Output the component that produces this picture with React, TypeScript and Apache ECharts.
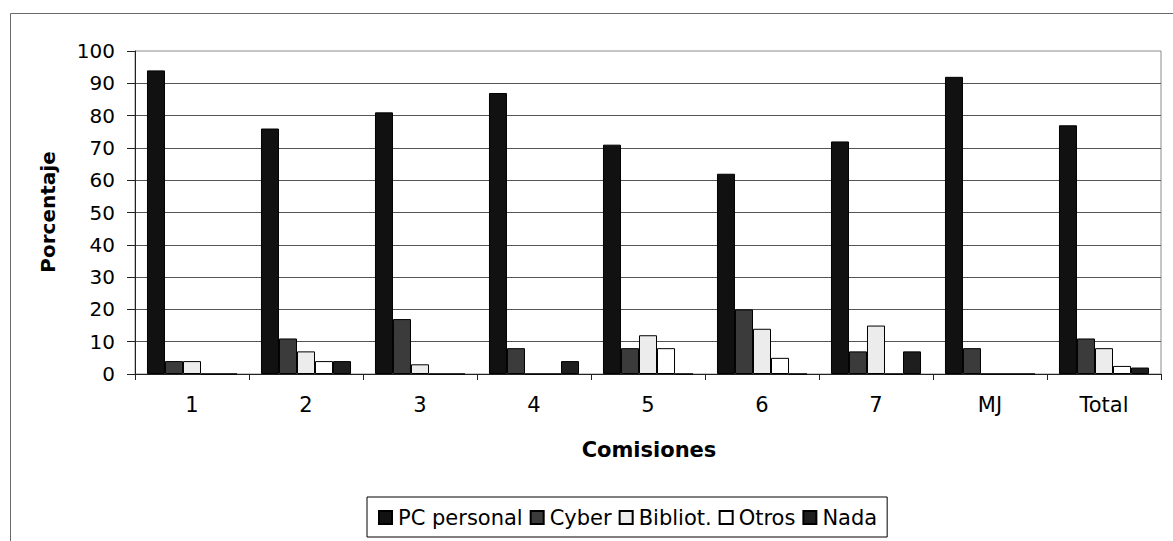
import React, { useEffect, useRef } from "react";
import * as echarts from "echarts";

const categories = ["1", "2", "3", "4", "5", "6", "7", "MJ", "Total"];
const seriesNames = ["PC personal", "Cyber", "Bibliot.", "Otros", "Nada"];
const pcPersonal = [94, 76, 81, 87, 71, 62, 72, 92, 77];
const cyber = [4, 11, 17, 8, 8, 20, 7, 8, 11];
const bibliot = [4, 7, 3, 0, 12, 14, 15, 0, 8];
const otros = [0, 4, 0, 0, 8, 5, 0, 0, 2.5];
const nada = [0, 4, 0, 4, 0, 0, 7, 0, 2];
const yTicks = { min: 0, max: 100, interval: 10 };

const seriesColors = ["#111111", "#3b3b3b", "#ececec", "#ffffff", "#1e1e1e"];
const FONT = "DejaVu Sans";

export default function App() {
  const ref = useRef<HTMLDivElement>(null);
  useEffect(() => {
    document.body.style.margin = "0";
    if (!ref.current) return;
    const chart = echarts.init(ref.current, null, { renderer: "svg" });
    const values = [pcPersonal, cyber, bibliot, otros, nada];
    chart.setOption({
      animation: false,
      backgroundColor: "#ffffff",
      grid: {
        left: 135,
        top: 51,
        right: 12,
        bottom: 167,
        show: true,
        borderColor: "#8a8a8a",
        borderWidth: 1,
      },
      graphic: [
        {
          type: "rect",
          shape: { x: 10.5, y: 13.5, width: 1300, height: 700 },
          style: { fill: "none", stroke: "#6a6a6a", lineWidth: 1 },
          silent: true,
          z: -10,
        },
        {
          type: "text",
          x: 48,
          y: 212,
          rotation: Math.PI / 2,
          style: {
            text: "Porcentaje",
            align: "center",
            verticalAlign: "middle",
            font: `bold 20px "${FONT}"`,
            fill: "#000",
          },
        },
        {
          type: "text",
          x: 649,
          y: 450,
          style: {
            text: "Comisiones",
            align: "center",
            verticalAlign: "middle",
            font: `bold 21px "${FONT}"`,
            fill: "#000",
          },
        },
      ],
      legend: {
        left: 367,
        top: 497,
        orient: "horizontal",
        padding: [10, 10, 9, 11],
        borderColor: "#000",
        borderWidth: 1,
        itemWidth: 13,
        itemHeight: 13,
        itemGap: 7,
        icon: "rect",
        textStyle: { fontFamily: FONT, fontSize: 21, color: "#000", padding: [0, 0, 0, 1] },
        data: seriesNames,
      },
      xAxis: {
        type: "category",
        data: categories,
        axisLine: { show: true, lineStyle: { color: "#222", width: 1 } },
        axisTick: { show: true, length: 6, lineStyle: { color: "#222" } },
        axisLabel: { fontFamily: FONT, fontSize: 21, color: "#000", margin: 20 },
        splitLine: { show: false },
      },
      yAxis: {
        type: "value",
        min: yTicks.min,
        max: yTicks.max,
        interval: yTicks.interval,
        axisLine: { show: true, lineStyle: { color: "#222", width: 1 } },
        axisTick: { show: true, length: 8, lineStyle: { color: "#222" } },
        axisLabel: { fontFamily: FONT, fontSize: 20, color: "#000", margin: 20 },
        splitLine: { show: true, showMaxLine: false, lineStyle: { color: "#555", width: 1 } },
      },
      series: seriesNames.map((name, i) => ({
        name,
        type: "bar",
        data: values[i],
        barGap: "0%",
        barCategoryGap: "21%",
        itemStyle: { color: seriesColors[i], borderColor: "#000", borderWidth: 1 },
      })),
    });
    return () => chart.dispose();
  }, []);
  return <div ref={ref} style={{ width: 1173, height: 541 }} />;
}
